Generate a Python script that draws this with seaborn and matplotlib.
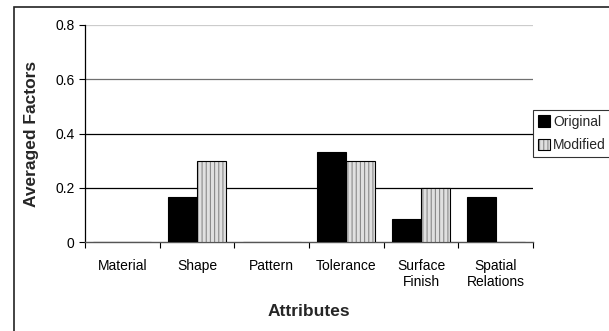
import pandas as pd
import matplotlib.pyplot as plt
import matplotlib.colors as mcolors
from matplotlib.patches import Rectangle
import seaborn as sns

# data
attributes = ['Material', 'Shape', 'Pattern', 'Tolerance', 'Surface\nFinish', 'Spatial\nRelations']
original = [0.0, 0.167, 0.0, 0.333, 0.083, 0.167]
modified = [0.0, 0.30, 0.0, 0.30, 0.20, 0.0]
series = ['Original', 'Modified']
y_ticks = [0, 0.2, 0.4, 0.6, 0.8]
y_tick_labels = ['0', '0.2', '0.4', '0.6', '0.8']

df = pd.DataFrame({
    'Attribute': attributes * 2,
    'Factor': original + modified,
    'Series': ['Original'] * len(attributes) + ['Modified'] * len(attributes),
})

sns.set_theme(style='white')
plt.rcParams['font.family'] = ['Liberation Sans', 'DejaVu Sans']
plt.rcParams['hatch.linewidth'] = 0.8

fig = plt.figure(figsize=(6.09, 3.31), dpi=100)
ax = fig.add_axes([85 / 609, 1 - 242 / 331, (533 - 85) / 609, (242 - 25) / 331])

sns.barplot(data=df, x='Attribute', y='Factor', hue='Series', hue_order=series,
            palette=['black', '#e0e0e0'], edgecolor='black', linewidth=0.8,
            width=0.78, gap=0, ax=ax, zorder=3)

# vertical hatching on the "Modified" bars
hatch_rgba = mcolors.to_rgba('#8a8a8a')
for cont in ax.containers[1:]:
    for p in cont:
        p.set_hatch('||||')
        p._hatch_color = hatch_rgba

ax.set_ylim(0, 0.8)
ax.set_xlim(-0.5, len(attributes) - 0.5)
ax.set_yticks(y_ticks)
ax.set_yticklabels(y_tick_labels, fontsize=10, color='black')
ax.tick_params(axis='x', length=0, labelsize=10, labelcolor='black', pad=12)
ax.tick_params(axis='y', length=4, width=0.8, color='black', direction='out', left=True)

# category separator ticks on x axis
ax.set_xticks([i - 0.5 for i in range(len(attributes) + 1)], minor=True)
ax.tick_params(axis='x', which='minor', length=4, width=0.8, color='black', direction='out', bottom=True)

# horizontal gridlines (Excel style)
grid_colors = {0.2: 'black', 0.4: 'black', 0.6: '#707070', 0.8: '#cccccc'}
for yv, c in grid_colors.items():
    ax.axhline(yv, color=c, lw=0.9, zorder=1)

for side in ['top', 'right']:
    ax.spines[side].set_visible(False)
ax.spines['left'].set_color('black')
ax.spines['left'].set_linewidth(0.9)
ax.spines['bottom'].set_color('#555555')
ax.spines['bottom'].set_linewidth(1.0)

ax.set_xlabel('Attributes', fontsize=12.5, fontweight='bold', labelpad=11)
ax.set_ylabel('Averaged Factors', fontsize=12.5, fontweight='bold', labelpad=12)

leg = ax.legend(loc='center left', bbox_to_anchor=(1.0, 0.5), fontsize=10,
                frameon=True, fancybox=False, edgecolor='black',
                handlelength=0.9, handleheight=0.9, handletextpad=0.2,
                borderpad=0.35, labelspacing=0.7, borderaxespad=0.0)
leg.get_frame().set_linewidth(0.8)
for h in leg.legend_handles[1:]:
    h.set_hatch('||||')
    h._hatch_color = hatch_rgba

# outer chart border (left and top visible)
fig.patches.append(Rectangle((14 / 609, -0.1), 1.2, 1.1 - 7 / 331,
                             transform=fig.transFigure, fill=False,
                             edgecolor='#222222', lw=1.2))

fig.savefig('out.png', dpi=100)
